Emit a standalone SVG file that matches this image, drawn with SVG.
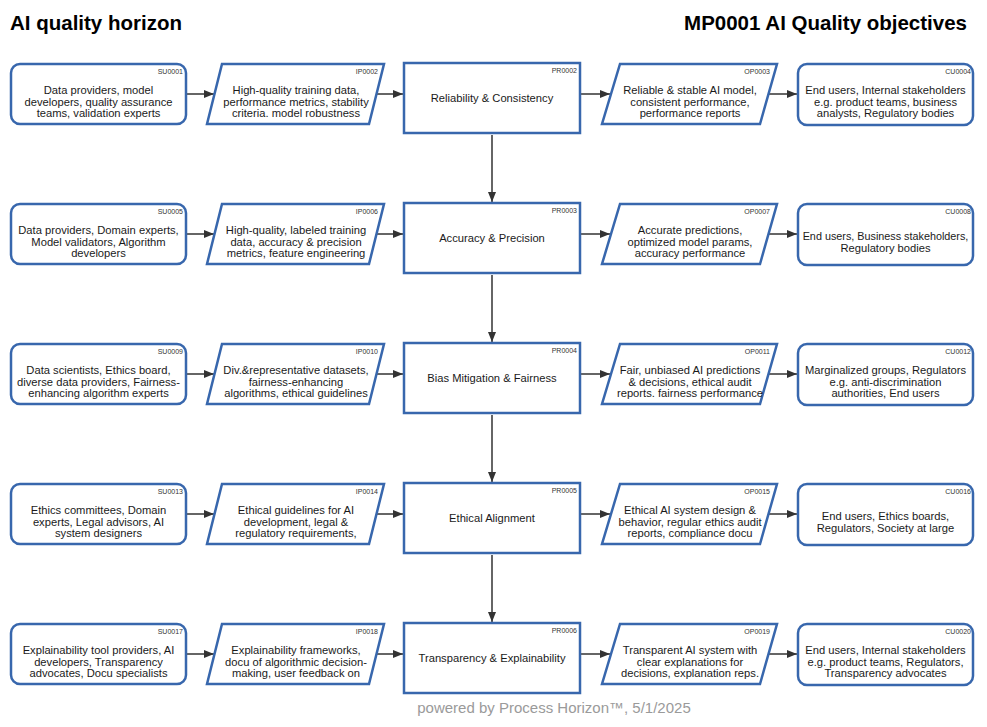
<svg xmlns="http://www.w3.org/2000/svg" width="987" height="727" viewBox="0 0 987 727">
<defs>
<style>
.box{fill:#fff;stroke:#3867ad;stroke-width:2.5}
.t{font-family:"Liberation Sans",Arial,sans-serif;font-size:11.2px;fill:#1a1a1a;text-anchor:middle}
.id{font-family:"Liberation Sans",Arial,sans-serif;font-size:7px;fill:#333;text-anchor:end}
.title{font-family:"Liberation Sans",Arial,sans-serif;font-size:20.5px;font-weight:bold;fill:#000}
.foot{font-family:"Liberation Sans",Arial,sans-serif;font-size:15px;fill:#9a9a9a;text-anchor:middle}
.c{stroke:#333;stroke-width:1.5;fill:none;marker-end:url(#ah)}
</style>
<marker id="ah" markerUnits="userSpaceOnUse" markerWidth="10" markerHeight="8" refX="10" refY="4" orient="auto">
<path d="M0,0 L10,4 L0,8 Z" fill="#333"/>
</marker>
<rect id="su" class="box" x="11" y="64" width="175" height="60" rx="9"/>
<path id="ip" class="box" d="M222,64 L384,64 L369,124 L207,124 Z"/>
<rect id="pr" class="box" x="404" y="63" width="176" height="70"/>
<path id="op" class="box" d="M620,64 L777,64 L760,124 L602,124 Z"/>
<rect id="cu" class="box" x="798" y="64" width="175" height="61" rx="9"/>
</defs>

<text class="title" x="10" y="30">AI quality horizon</text>
<text class="title" x="967" y="30" text-anchor="end">MP0001 AI Quality objectives</text>

<g id="connectors">
<line class="c" x1="187" y1="94" x2="214" y2="94"/>
<line class="c" x1="377" y1="94" x2="403" y2="94"/>
<line class="c" x1="581" y1="94" x2="610" y2="94"/>
<line class="c" x1="769" y1="94" x2="797" y2="94"/>
<line class="c" x1="187" y1="234" x2="214" y2="234"/>
<line class="c" x1="377" y1="234" x2="403" y2="234"/>
<line class="c" x1="581" y1="234" x2="610" y2="234"/>
<line class="c" x1="769" y1="234" x2="797" y2="234"/>
<line class="c" x1="187" y1="374" x2="214" y2="374"/>
<line class="c" x1="377" y1="374" x2="403" y2="374"/>
<line class="c" x1="581" y1="374" x2="610" y2="374"/>
<line class="c" x1="769" y1="374" x2="797" y2="374"/>
<line class="c" x1="187" y1="514" x2="214" y2="514"/>
<line class="c" x1="377" y1="514" x2="403" y2="514"/>
<line class="c" x1="581" y1="514" x2="610" y2="514"/>
<line class="c" x1="769" y1="514" x2="797" y2="514"/>
<line class="c" x1="187" y1="654" x2="214" y2="654"/>
<line class="c" x1="377" y1="654" x2="403" y2="654"/>
<line class="c" x1="581" y1="654" x2="610" y2="654"/>
<line class="c" x1="769" y1="654" x2="797" y2="654"/>
<line class="c" x1="492" y1="135" x2="492" y2="202"/>
<line class="c" x1="492" y1="275" x2="492" y2="342"/>
<line class="c" x1="492" y1="415" x2="492" y2="482"/>
<line class="c" x1="492" y1="555" x2="492" y2="622"/>
</g>

<!-- Row 1 -->
<g id="SU0001"><use href="#su"/><text class="id" x="183" y="74">SU0001</text>
<text class="t" x="98.5" y="94">Data providers, model</text><text class="t" x="98.5" y="105.5">developers, quality assurance</text><text class="t" x="98.5" y="117">teams, validation experts</text></g>
<g id="IP0002"><use href="#ip"/><text class="id" x="378" y="74">IP0002</text>
<text class="t" x="296" y="94">High-quality training data,</text><text class="t" x="296" y="105.5">performance metrics, stability</text><text class="t" x="296" y="117">criteria. model robustness</text></g>
<g id="PR0002"><use href="#pr"/><text class="id" x="577" y="73">PR0002</text>
<text class="t" x="492" y="102">Reliability &amp; Consistency</text></g>
<g id="OP0003"><use href="#op"/><text class="id" x="770" y="74">OP0003</text>
<text class="t" x="690" y="94">Reliable &amp; stable AI model,</text><text class="t" x="690" y="105.5">consistent performance,</text><text class="t" x="690" y="117">performance reports</text></g>
<g id="CU0004"><use href="#cu"/><text class="id" x="971" y="74">CU0004</text>
<text class="t" x="885.5" y="94">End users, Internal stakeholders</text><text class="t" x="885.5" y="105.5">e.g. product teams, business</text><text class="t" x="885.5" y="117">analysts, Regulatory bodies</text></g>

<!-- Row 2 -->
<g id="SU0005" transform="translate(0,140)"><use href="#su"/><text class="id" x="183" y="74">SU0005</text>
<text class="t" x="98.5" y="94">Data providers, Domain experts,</text><text class="t" x="98.5" y="105.5">Model validators, Algorithm</text><text class="t" x="98.5" y="117">developers</text></g>
<g id="IP0006" transform="translate(0,140)"><use href="#ip"/><text class="id" x="378" y="74">IP0006</text>
<text class="t" x="296" y="94">High-quality, labeled training</text><text class="t" x="296" y="105.5">data, accuracy &amp; precision</text><text class="t" x="296" y="117">metrics, feature engineering</text></g>
<g id="PR0003" transform="translate(0,140)"><use href="#pr"/><text class="id" x="577" y="73">PR0003</text>
<text class="t" x="492" y="102">Accuracy &amp; Precision</text></g>
<g id="OP0007" transform="translate(0,140)"><use href="#op"/><text class="id" x="770" y="74">OP0007</text>
<text class="t" x="690" y="94">Accurate predictions,</text><text class="t" x="690" y="105.5">optimized model params,</text><text class="t" x="690" y="117">accuracy performance</text></g>
<g id="CU0008" transform="translate(0,140)"><use href="#cu"/><text class="id" x="971" y="74">CU0008</text>
<text class="t" x="885.5" y="100" style="font-size:10.8px">End users, Business stakeholders,</text><text class="t" x="885.5" y="111.5">Regulatory bodies</text></g>

<!-- Row 3 -->
<g id="SU0009" transform="translate(0,280)"><use href="#su"/><text class="id" x="183" y="74">SU0009</text>
<text class="t" x="98.5" y="94">Data scientists, Ethics board,</text><text class="t" x="98.5" y="105.5">diverse data providers, Fairness-</text><text class="t" x="98.5" y="117">enhancing algorithm experts</text></g>
<g id="IP0010" transform="translate(0,280)"><use href="#ip"/><text class="id" x="378" y="74">IP0010</text>
<text class="t" x="296" y="94">Div.&amp;representative datasets,</text><text class="t" x="296" y="105.5">fairness-enhancing</text><text class="t" x="296" y="117">algorithms, ethical guidelines</text></g>
<g id="PR0004" transform="translate(0,280)"><use href="#pr"/><text class="id" x="577" y="73">PR0004</text>
<text class="t" x="492" y="102">Bias Mitigation &amp; Fairness</text></g>
<g id="OP0011" transform="translate(0,280)"><use href="#op"/><text class="id" x="770" y="74">OP0011</text>
<text class="t" x="690" y="94">Fair, unbiased AI predictions</text><text class="t" x="690" y="105.5">&amp; decisions, ethical audit</text><text class="t" x="690" y="117">reports. fairness performance</text></g>
<g id="CU0012" transform="translate(0,280)"><use href="#cu"/><text class="id" x="971" y="74">CU0012</text>
<text class="t" x="885.5" y="94">Marginalized groups, Regulators</text><text class="t" x="885.5" y="105.5">e.g. anti-discrimination</text><text class="t" x="885.5" y="117">authorities, End users</text></g>

<!-- Row 4 -->
<g id="SU0013" transform="translate(0,420)"><use href="#su"/><text class="id" x="183" y="74">SU0013</text>
<text class="t" x="98.5" y="94">Ethics committees, Domain</text><text class="t" x="98.5" y="105.5">experts, Legal advisors, AI</text><text class="t" x="98.5" y="117">system designers</text></g>
<g id="IP0014" transform="translate(0,420)"><use href="#ip"/><text class="id" x="378" y="74">IP0014</text>
<text class="t" x="296" y="94">Ethical guidelines for AI</text><text class="t" x="296" y="105.5">development, legal &amp;</text><text class="t" x="296" y="117">regulatory requirements,</text></g>
<g id="PR0005" transform="translate(0,420)"><use href="#pr"/><text class="id" x="577" y="73">PR0005</text>
<text class="t" x="492" y="102">Ethical Alignment</text></g>
<g id="OP0015" transform="translate(0,420)"><use href="#op"/><text class="id" x="770" y="74">OP0015</text>
<text class="t" x="690" y="94">Ethical AI system design &amp;</text><text class="t" x="690" y="105.5">behavior, regular ethics audit</text><text class="t" x="690" y="117">reports, compliance docu</text></g>
<g id="CU0016" transform="translate(0,420)"><use href="#cu"/><text class="id" x="971" y="74">CU0016</text>
<text class="t" x="885.5" y="100">End users, Ethics boards,</text><text class="t" x="885.5" y="111.5">Regulators, Society at large</text></g>

<!-- Row 5 -->
<g id="SU0017" transform="translate(0,560)"><use href="#su"/><text class="id" x="183" y="74">SU0017</text>
<text class="t" x="98.5" y="94">Explainability tool providers, AI</text><text class="t" x="98.5" y="105.5">developers, Transparency</text><text class="t" x="98.5" y="117">advocates, Docu specialists</text></g>
<g id="IP0018" transform="translate(0,560)"><use href="#ip"/><text class="id" x="378" y="74">IP0018</text>
<text class="t" x="296" y="94">Explainability frameworks,</text><text class="t" x="296" y="105.5">docu of algorithmic decision-</text><text class="t" x="296" y="117">making, user feedback on</text></g>
<g id="PR0006" transform="translate(0,560)"><use href="#pr"/><text class="id" x="577" y="73">PR0006</text>
<text class="t" x="492" y="102">Transparency &amp; Explainability</text></g>
<g id="OP0019" transform="translate(0,560)"><use href="#op"/><text class="id" x="770" y="74">OP0019</text>
<text class="t" x="690" y="94">Transparent AI system with</text><text class="t" x="690" y="105.5">clear explanations for</text><text class="t" x="690" y="117">decisions, explanation reps.</text></g>
<g id="CU0020" transform="translate(0,560)"><use href="#cu"/><text class="id" x="971" y="74">CU0020</text>
<text class="t" x="885.5" y="94">End users, Internal stakeholders</text><text class="t" x="885.5" y="105.5">e.g. product teams, Regulators,</text><text class="t" x="885.5" y="117">Transparency advocates</text></g>

<text class="foot" x="554" y="713">powered by Process Horizon™, 5/1/2025</text>
</svg>
